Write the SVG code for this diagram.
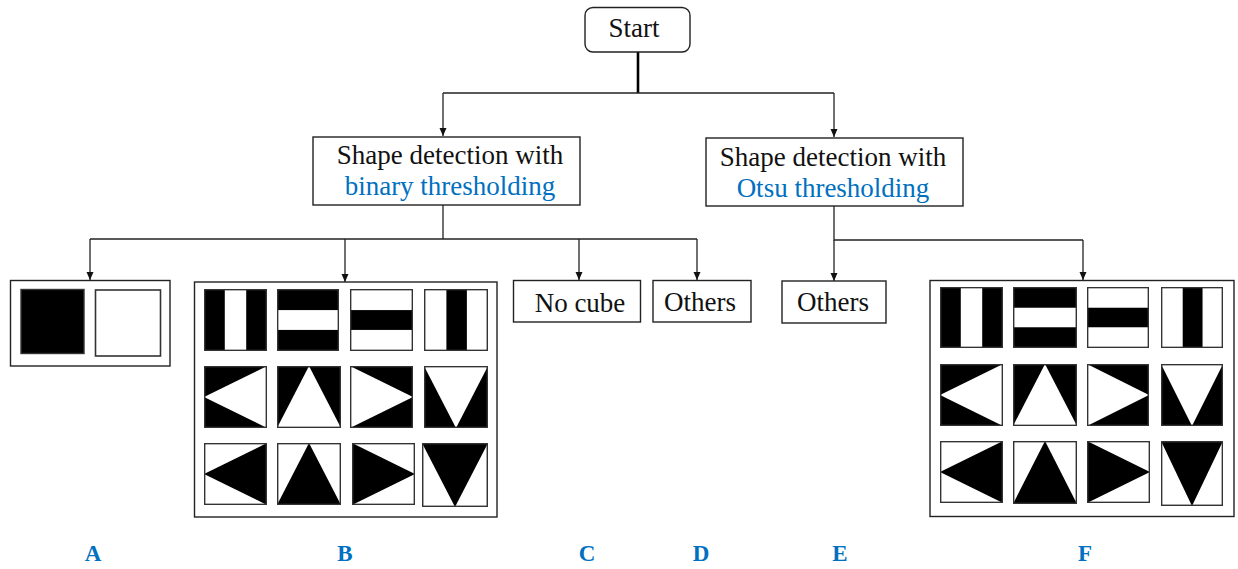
<svg xmlns="http://www.w3.org/2000/svg" xmlns:xlink="http://www.w3.org/1999/xlink" width="1238" height="569" viewBox="0 0 1238 569">
  <style>
    .box { fill: #fff; stroke: #222; stroke-width: 1.4; }
    .txt { font-family: "Liberation Serif", "Times New Roman", serif; font-size: 27px; fill: #111; text-anchor: middle; }
    .blue { fill: #0070C0; }
    .lbl { font-family: "Liberation Serif", "Times New Roman", serif; font-size: 23px; font-weight: bold; fill: #0070C0; text-anchor: middle; }
    .wire { fill: none; stroke: #222; stroke-width: 1.3; }
    .trunk { fill: none; stroke: #000; stroke-width: 2.6; }
    .cellframe { fill: none; stroke: #333; stroke-width: 2.4; }
  </style>
  <defs>
    <marker id="arrow" markerUnits="userSpaceOnUse" markerWidth="8" markerHeight="8" refX="8" refY="3.5" orient="auto">
      <path d="M0,0 L8,3.5 L0,7 z" fill="#111"/>
    </marker>
    <!-- 100x100 pattern tiles, stretched into each cell -->
    <symbol id="vbarW" viewBox="0 0 100 100" preserveAspectRatio="none">
      <rect width="100" height="100" fill="#000"/>
      <rect x="33" width="34" height="100" fill="#fff"/>
      <rect x="1" y="1" width="98" height="98" class="cellframe"/>
    </symbol>
    <symbol id="hbarW" viewBox="0 0 100 100" preserveAspectRatio="none">
      <rect width="100" height="100" fill="#000"/>
      <rect y="34" width="100" height="32" fill="#fff"/>
      <rect x="1" y="1" width="98" height="98" class="cellframe"/>
    </symbol>
    <symbol id="hbarB" viewBox="0 0 100 100" preserveAspectRatio="none">
      <rect width="100" height="100" fill="#fff"/>
      <rect y="34" width="100" height="32" fill="#000"/>
      <rect x="1" y="1" width="98" height="98" class="cellframe"/>
    </symbol>
    <symbol id="vbarB" viewBox="0 0 100 100" preserveAspectRatio="none">
      <rect width="100" height="100" fill="#fff"/>
      <rect x="35" width="32" height="100" fill="#000"/>
      <rect x="1" y="1" width="98" height="98" class="cellframe"/>
    </symbol>
    <symbol id="leftW" viewBox="0 0 100 100" preserveAspectRatio="none">
      <rect width="100" height="100" fill="#000"/>
      <polygon points="100,0 100,100 0,50" fill="#fff"/>
      <rect x="1" y="1" width="98" height="98" class="cellframe"/>
    </symbol>
    <symbol id="upW" viewBox="0 0 100 100" preserveAspectRatio="none">
      <rect width="100" height="100" fill="#000"/>
      <polygon points="0,100 100,100 50,0" fill="#fff"/>
      <rect x="1" y="1" width="98" height="98" class="cellframe"/>
    </symbol>
    <symbol id="rightW" viewBox="0 0 100 100" preserveAspectRatio="none">
      <rect width="100" height="100" fill="#000"/>
      <polygon points="0,0 0,100 100,50" fill="#fff"/>
      <rect x="1" y="1" width="98" height="98" class="cellframe"/>
    </symbol>
    <symbol id="downW" viewBox="0 0 100 100" preserveAspectRatio="none">
      <rect width="100" height="100" fill="#000"/>
      <polygon points="0,0 100,0 50,100" fill="#fff"/>
      <rect x="1" y="1" width="98" height="98" class="cellframe"/>
    </symbol>
    <symbol id="leftB" viewBox="0 0 100 100" preserveAspectRatio="none">
      <rect width="100" height="100" fill="#fff"/>
      <polygon points="100,0 100,100 0,50" fill="#000"/>
      <rect x="1" y="1" width="98" height="98" class="cellframe"/>
    </symbol>
    <symbol id="upB" viewBox="0 0 100 100" preserveAspectRatio="none">
      <rect width="100" height="100" fill="#fff"/>
      <polygon points="0,100 100,100 50,0" fill="#000"/>
      <rect x="1" y="1" width="98" height="98" class="cellframe"/>
    </symbol>
    <symbol id="rightB" viewBox="0 0 100 100" preserveAspectRatio="none">
      <rect width="100" height="100" fill="#fff"/>
      <polygon points="0,0 0,100 100,50" fill="#000"/>
      <rect x="1" y="1" width="98" height="98" class="cellframe"/>
    </symbol>
    <symbol id="downB" viewBox="0 0 100 100" preserveAspectRatio="none">
      <rect width="100" height="100" fill="#fff"/>
      <polygon points="0,0 100,0 50,100" fill="#000"/>
      <rect x="1" y="1" width="98" height="98" class="cellframe"/>
    </symbol>
  </defs>

  <rect width="1238" height="569" fill="#fff"/>

  <!-- connectors -->
  <g id="connectors">
    <path class="trunk" d="M638,52 V93"/>
    <path class="wire" d="M443,93 H834"/>
    <path class="wire" d="M443,93 V136" marker-end="url(#arrow)"/>
    <path class="wire" d="M834,93 V137" marker-end="url(#arrow)"/>

    <path class="wire" d="M443,205 V239"/>
    <path class="wire" d="M90,239 H697"/>
    <path class="wire" d="M90,239 V280" marker-end="url(#arrow)"/>
    <path class="wire" d="M345,239 V282" marker-end="url(#arrow)"/>
    <path class="wire" d="M579,239 V280" marker-end="url(#arrow)"/>
    <path class="wire" d="M697,239 V280" marker-end="url(#arrow)"/>

    <path class="wire" d="M834,206 V240 H1083"/>
    <path class="wire" d="M834,240 V281" marker-end="url(#arrow)"/>
    <path class="wire" d="M1083,240 V280" marker-end="url(#arrow)"/>
  </g>

  <!-- start -->
  <g id="start">
    <rect class="box" x="585" y="7.5" width="105" height="44.5" rx="8"/>
    <text class="txt" x="634" y="37">Start</text>
  </g>

  <!-- detection stages -->
  <g id="binary">
    <rect class="box" x="313" y="137" width="267" height="68"/>
    <text class="txt" x="450" y="164">Shape detection with</text>
    <text class="txt blue" x="450" y="195">binary thresholding</text>
  </g>
  <g id="otsu">
    <rect class="box" x="706" y="138" width="257" height="68"/>
    <text class="txt" x="833" y="166">Shape detection with</text>
    <text class="txt blue" x="833" y="197">Otsu thresholding</text>
  </g>

  <!-- A: plain black / white -->
  <g id="nodeA">
    <rect class="box" x="10.5" y="280.5" width="159.5" height="85.5"/>
    <rect x="21" y="289.5" width="63" height="64" fill="#000" stroke="#333" stroke-width="1.4"/>
    <rect x="95.5" y="290" width="65" height="66" fill="#fff" stroke="#333" stroke-width="1.6"/>
  </g>

  <!-- B: binary-threshold shapes -->
  <g id="nodeB">
    <rect class="box" x="194.5" y="282" width="302.5" height="235"/>
    <use xlink:href="#vbarW" x="204" y="289" width="63" height="62"/>
    <use xlink:href="#hbarW" x="277" y="289" width="62" height="62"/>
    <use xlink:href="#hbarB" x="350" y="289" width="63" height="62"/>
    <use xlink:href="#vbarB" x="424" y="289" width="64" height="62"/>
    <use xlink:href="#leftW" x="204" y="366" width="63" height="62"/>
    <use xlink:href="#upW" x="277" y="366" width="64" height="62"/>
    <use xlink:href="#rightW" x="350" y="366" width="63" height="62"/>
    <use xlink:href="#downW" x="424" y="366" width="64" height="62"/>
    <use xlink:href="#leftB" x="204" y="443" width="63" height="62"/>
    <use xlink:href="#upB" x="277" y="443" width="64" height="62"/>
    <use xlink:href="#rightB" x="352" y="443" width="63" height="62"/>
    <use xlink:href="#downB" x="422" y="443" width="66" height="64"/>
  </g>

  <!-- C, D -->
  <g id="nodeC">
    <rect class="box" x="513.5" y="280.5" width="127" height="41.5"/>
    <text class="txt" x="580" y="312">No cube</text>
  </g>
  <g id="nodeD">
    <rect class="box" x="653" y="280.5" width="98" height="41.5"/>
    <text class="txt" x="700" y="311">Others</text>
  </g>

  <!-- E -->
  <g id="nodeE">
    <rect class="box" x="782" y="281" width="104" height="42"/>
    <text class="txt" x="833" y="311">Others</text>
  </g>

  <!-- F: Otsu-threshold shapes -->
  <g id="nodeF">
    <rect class="box" x="930" y="280.5" width="304" height="236"/>
    <use xlink:href="#vbarW" x="940" y="287" width="63" height="61"/>
    <use xlink:href="#hbarW" x="1013" y="287" width="64" height="61"/>
    <use xlink:href="#hbarB" x="1087" y="287" width="62" height="61"/>
    <use xlink:href="#vbarB" x="1161" y="287" width="62" height="61"/>
    <use xlink:href="#leftW" x="940" y="364" width="63" height="62"/>
    <use xlink:href="#upW" x="1013" y="364" width="64" height="62"/>
    <use xlink:href="#rightW" x="1087" y="364" width="62" height="62"/>
    <use xlink:href="#downW" x="1161" y="364" width="62" height="62"/>
    <use xlink:href="#leftB" x="940" y="441" width="63" height="62"/>
    <use xlink:href="#upB" x="1013" y="441" width="64" height="63"/>
    <use xlink:href="#rightB" x="1087" y="441" width="63" height="62"/>
    <use xlink:href="#downB" x="1161" y="441" width="62" height="65"/>
  </g>

  <!-- branch labels -->
  <g id="labels">
    <text class="lbl" x="93" y="561">A</text>
    <text class="lbl" x="345" y="561">B</text>
    <text class="lbl" x="587" y="561">C</text>
    <text class="lbl" x="701" y="561">D</text>
    <text class="lbl" x="840" y="561">E</text>
    <text class="lbl" x="1085" y="561">F</text>
  </g>
</svg>
